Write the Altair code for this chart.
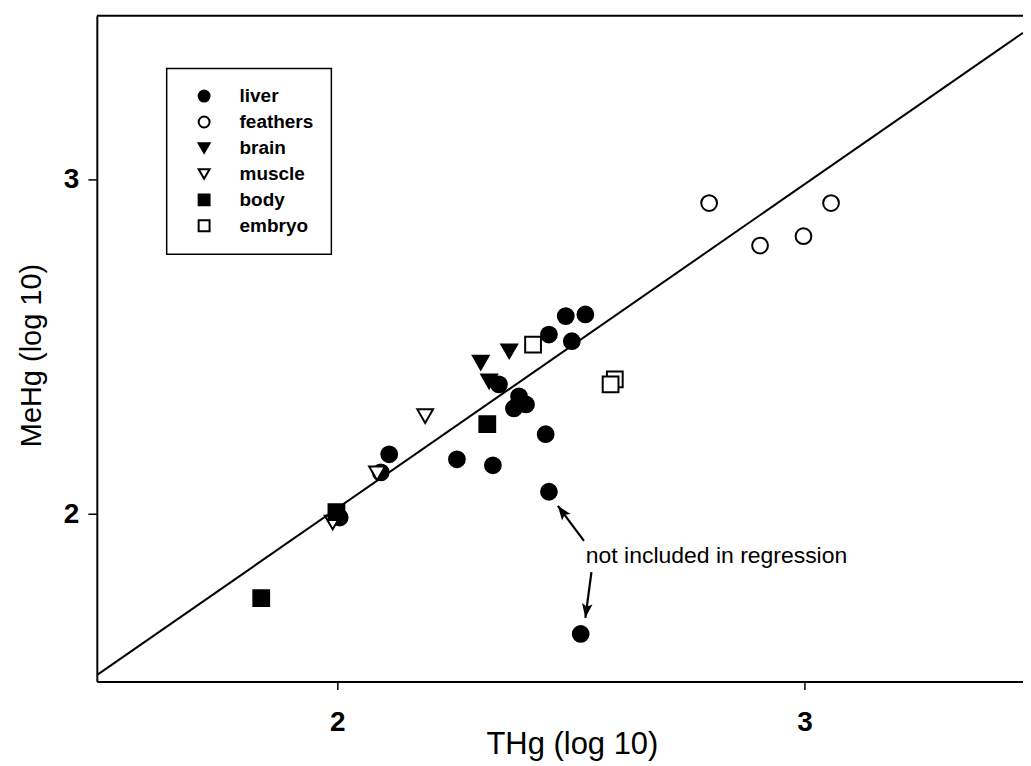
import math
import altair as alt
import pandas as pd

# ---------------- data ----------------
tissues = ["liver", "feathers", "brain", "muscle", "body", "embryo"]

liver_x = [2.005, 2.111, 2.093, 2.256, 2.333, 2.446, 2.453, 2.521, 2.389, 2.404, 2.378, 2.346, 2.489, 2.531, 2.453, 2.502]
liver_y = [1.990, 2.179, 2.125, 2.164, 2.146, 2.239, 2.067, 1.642, 2.352, 2.328, 2.316, 2.388, 2.592, 2.597, 2.537, 2.517]

feathers_x = [2.796, 2.905, 2.998, 3.057]
feathers_y = [2.930, 2.803, 2.831, 2.930]

brain_x = [2.307, 2.368, 2.325]
brain_y = [2.453, 2.487, 2.397]

muscle_x = [2.188, 2.085, 1.990]
muscle_y = [2.293, 2.122, 1.975]

body_x = [1.837, 1.998, 2.321]
body_y = [1.749, 2.006, 2.269]

embryo_x = [2.419, 2.594, 2.585]
embryo_y = [2.507, 2.403, 2.388]

# regression line end points
line_x = [1.485, 3.468]
line_y = [1.519, 3.439]

# annotation
note_text = "not included in regression"
note_x = [2.532]
note_y = [1.8755]
arrow_tail_x = [2.528, 2.544]
arrow_tail_y = [1.920, 1.827]
arrow_head_x = [2.472, 2.531]
arrow_head_y = [2.025, 1.690]

x_ticks = [2, 3]
y_ticks = [2, 3]

# ---------------- layout ----------------
W, H = 928, 667
XDOM = [1.485, 3.468]
YDOM = [1.5, 3.49]
FONT = "Liberation Sans"

rows = []
for name, xs, ys in [("liver", liver_x, liver_y), ("feathers", feathers_x, feathers_y),
                     ("brain", brain_x, brain_y), ("muscle", muscle_x, muscle_y),
                     ("body", body_x, body_y), ("embryo", embryo_x, embryo_y)]:
    for a, b in zip(xs, ys):
        rows.append({"tissue": name, "THg": a, "MeHg": b})
pts = pd.DataFrame(rows)
pts["order"] = range(len(pts))

xs_scale = alt.Scale(domain=XDOM, nice=False, zero=False)
ys_scale = alt.Scale(domain=YDOM, nice=False, zero=False)

x_axis = alt.Axis(values=x_ticks, format="d", tickSize=8, labelPadding=19,
                  title="THg (log 10)", titleFontSize=31,
                  titleX=476, titleY=63, titleBaseline="middle", titleAlign="center")
y_axis = alt.Axis(values=y_ticks, format="d", tickSize=9, labelPadding=9,
                  title="MeHg (log 10)", titleAngle=270, titleFontSize=29,
                  titleX=-65, titleY=340, titleBaseline="middle", titleAlign="center")

legend = alt.Legend(title=None, symbolStrokeColor="black", symbolStrokeWidth=2)

points = alt.Chart(pts).mark_point(filled=True, size=250, strokeWidth=2, opacity=1).encode(
    x=alt.X("THg:Q", scale=xs_scale, axis=x_axis),
    y=alt.Y("MeHg:Q", scale=ys_scale, axis=y_axis),
    shape=alt.Shape("tissue:N", sort=tissues,
                    scale=alt.Scale(domain=tissues,
                                    range=["circle", "circle", "triangle-down",
                                           "triangle-down", "square", "square"]),
                    legend=legend),
    fill=alt.Fill("tissue:N", sort=tissues,
                  scale=alt.Scale(domain=tissues,
                                  range=["black", "white", "black", "white", "black", "white"]),
                  legend=legend),
    stroke=alt.Stroke("tissue:N", sort=tissues,
                      scale=alt.Scale(domain=tissues, range=["black"] * 6),
                      legend=legend),
    order=alt.Order("order:Q"),
)

line_df = pd.DataFrame({"THg": line_x, "MeHg": line_y})
reg = alt.Chart(line_df).mark_line(color="black", strokeWidth=2, clip=True).encode(
    x=alt.X("THg:Q", scale=xs_scale, axis=x_axis),
    y=alt.Y("MeHg:Q", scale=ys_scale, axis=y_axis),
)

# arrows
sx = W / (XDOM[1] - XDOM[0])
sy = H / (YDOM[1] - YDOM[0])
angles = []
for tx, ty, hx, hy in zip(arrow_tail_x, arrow_tail_y, arrow_head_x, arrow_head_y):
    angles.append(math.degrees(math.atan2((hx - tx) * sx, (hy - ty) * sy)) % 360)
arr_df = pd.DataFrame({"x": arrow_tail_x, "y": arrow_tail_y,
                       "x2": arrow_head_x, "y2": arrow_head_y, "angle": angles})
shafts = alt.Chart(arr_df).mark_rule(color="black", strokeWidth=2.2).encode(
    x=alt.X("x:Q", scale=xs_scale, axis=x_axis),
    y=alt.Y("y:Q", scale=ys_scale, axis=y_axis),
    x2="x2:Q", y2="y2:Q")
heads = alt.Chart(arr_df).mark_point(
    shape="M0,0L0.5,1.35L0,1.05L-0.5,1.35Z", filled=True, color="black",
    size=450, opacity=1).encode(
    x=alt.X("x2:Q", scale=xs_scale, axis=x_axis),
    y=alt.Y("y2:Q", scale=ys_scale, axis=y_axis),
    angle=alt.Angle("angle:Q", scale=None))

note_df = pd.DataFrame({"x": note_x, "y": note_y, "t": [note_text]})
note = alt.Chart(note_df).mark_text(align="left", baseline="middle", font=FONT,
                                    fontSize=23, color="black").encode(
    x=alt.X("x:Q", scale=xs_scale, axis=x_axis),
    y=alt.Y("y:Q", scale=ys_scale, axis=y_axis), text="t:N")

top_border = alt.Chart(pd.DataFrame({"a": [0]})).mark_rule(color="black", strokeWidth=2).encode(
    x=alt.value(0), x2=alt.value(W), y=alt.value(0))

chart = alt.layer(reg, shafts, heads, note, points, top_border).properties(
    width=W, height=H,
    autosize=alt.AutoSizeParams(type="none"),
    padding={"left": 89, "top": 7, "right": 0, "bottom": 80},
    background="white",
).configure_view(strokeWidth=0).configure_axis(
    labelFontSize=28, labelFont=FONT, labelColor="black", labelFontWeight="bold",
    tickWidth=1.5, tickColor="black", domainColor="black", domainWidth=2, grid=False,
    titleFont=FONT, titleFontSize=29, titleFontWeight="normal", titleColor="black",
).configure_legend(
    orient="none", legendX=70, legendY=53, padding=18, symbolOffset=10,
    labelOffset=26, labelFontSize=19, labelFontWeight="bold", labelFont=FONT,
    labelColor="black", rowPadding=6, strokeColor="black", strokeWidth=1.5,
    fillColor="white", symbolSize=120, symbolStrokeWidth=2, symbolStrokeColor="black",
)

chart.save("out.html", embed_options={"renderer": "svg", "actions": False})
